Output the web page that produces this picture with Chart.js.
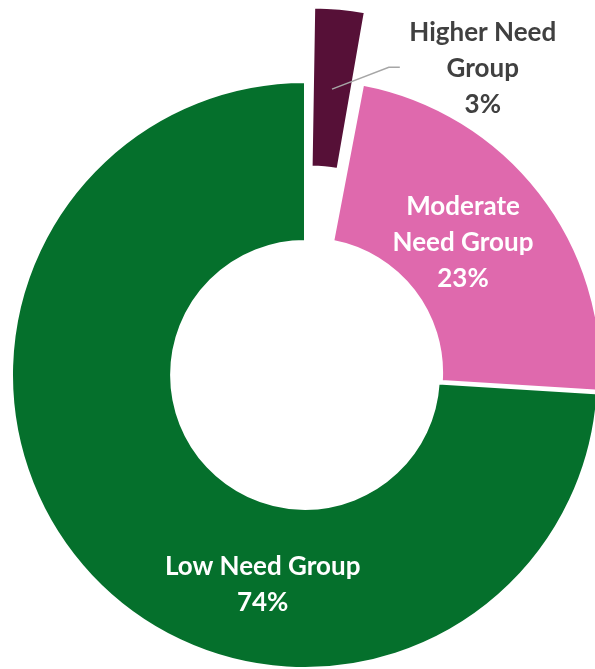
<!DOCTYPE html>
<html>
<head>
<meta charset="utf-8">
<script src="https://cdn.jsdelivr.net/npm/chart.js@4.4.1/dist/chart.umd.min.js"></script>
<style>
  html, body { margin: 0; padding: 0; background: #ffffff; }
  #wrap { position: relative; width: 595px; height: 669px; overflow: hidden; }
</style>
</head>
<body>
<div id="wrap"><canvas id="chart"></canvas></div>
<script>
// Need-group shares, clockwise from 12 o'clock
const categories = ['Higher Need Group', 'Moderate Need Group', 'Low Need Group'];
const shares = [3, 23, 74];
const labelLines = [['Higher Need', 'Group'], ['Moderate', 'Need Group'], ['Low Need Group']];
const sliceColors = ['#561037', '#DF69AD', '#05702C'];

const LABEL_FONT = 'bold 26px Lato';

// Where each label block sits: polar position around the ring centre
// (angle clockwise from 12 o'clock, radius as a fraction of the outer radius)
const labelPlacement = [
  { angle: 30.1, radius: 1.21, color: '#404040', leader: true },
  { angle: 50.1, radius: 0.703, color: '#ffffff' },
  { angle: 191.4, radius: 0.731, color: '#ffffff' }
];

const sliceLabels = {
  id: 'sliceLabels',
  afterDatasetsDraw(chart) {
    const ctx = chart.ctx;
    const meta = chart.getDatasetMeta(0);
    const lineH = 36;
    meta.data.forEach((arc, i) => {
      const p = labelPlacement[i];
      const R = arc.outerRadius;
      const a = p.angle * Math.PI / 180;
      const cx = arc.x + Math.sin(a) * R * p.radius;
      const cy = arc.y - Math.cos(a) * R * p.radius;
      const lines = labelLines[i].concat([shares[i] + '%']);
      ctx.save();
      if (p.leader) {
        // elbow leader from the exploded slice to the label block
        const mid = (arc.startAngle + arc.endAngle) / 2;
        const sx = arc.x + Math.cos(mid) * R * 0.98;
        const sy = arc.y + Math.sin(mid) * R * 0.98;
        const ey = cy - 1;
        ctx.strokeStyle = '#A6A6A6';
        ctx.lineWidth = 1.5;
        ctx.beginPath();
        ctx.moveTo(sx, sy);
        ctx.lineTo(cx - 94, ey);
        ctx.lineTo(cx - 83, ey);
        ctx.stroke();
      }
      ctx.font = LABEL_FONT;
      ctx.fillStyle = p.color;
      ctx.textAlign = 'center';
      ctx.textBaseline = 'middle';
      const top = cy - (lines.length - 1) * lineH / 2;
      lines.forEach((t, k) => ctx.fillText(t, cx, top + k * lineH));
      ctx.restore();
    });
  }
};

new Chart(document.getElementById('chart'), {
  type: 'doughnut',
  data: {
    labels: categories,
    datasets: [{
      data: shares,
      backgroundColor: sliceColors,
      borderColor: '#ffffff',
      borderWidth: 2,
      offset: [165, 16, 0],
      hoverOffset: 0,
      clip: false
    }]
  },
  options: {
    responsive: true,
    maintainAspectRatio: false,
    animation: false,
    events: [],
    radius: 293,
    cutout: '45.7%',
    layout: { padding: { left: 15, right: 0, top: 81, bottom: 0 } },
    plugins: { legend: { display: false }, tooltip: { enabled: false } }
  },
  plugins: [sliceLabels]
});
</script>
</body>
</html>
